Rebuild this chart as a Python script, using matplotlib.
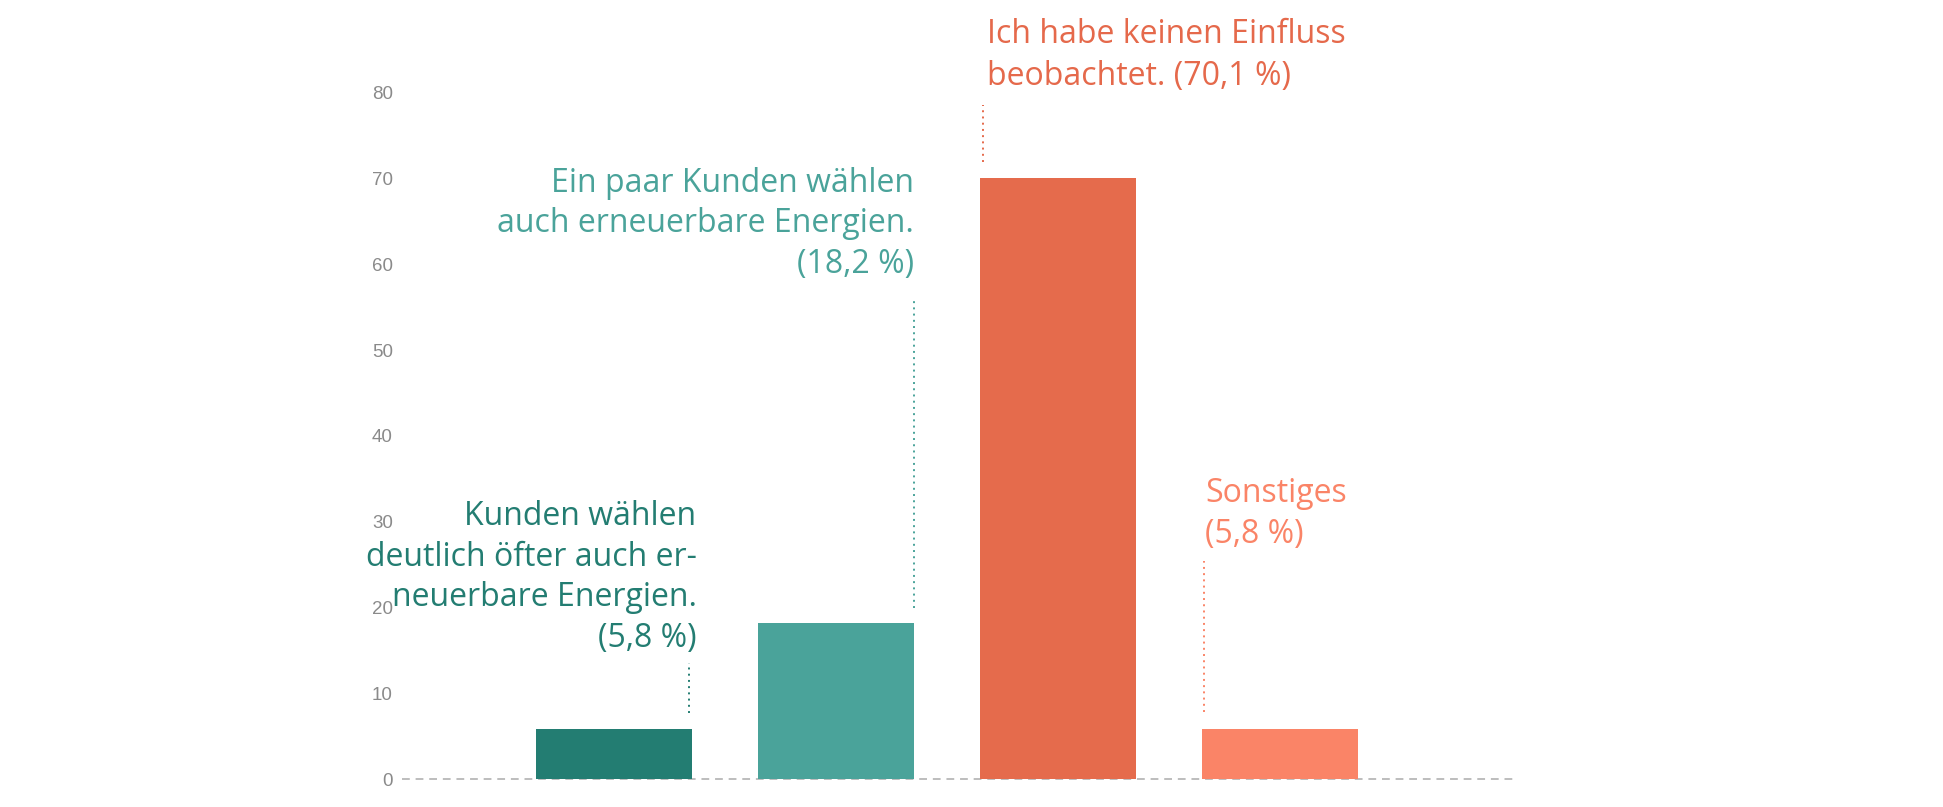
import matplotlib
matplotlib.use("Agg")
import matplotlib.pyplot as plt
from matplotlib import font_manager

# ---- data ----
categories = ["Kunden wählen deutlich öfter auch erneuerbare Energien.",
              "Ein paar Kunden wählen auch erneuerbare Energien.",
              "Ich habe keinen Einfluss beobachtet.",
              "Sonstiges"]
values = [5.8, 18.2, 70.1, 5.8]
label_lines = [
    ["Kunden wählen", "deutlich öfter auch er-", "neuerbare Energien.", "(5,8 %)"],
    ["Ein paar Kunden wählen", "auch erneuerbare Energien.", "(18,2 %)"],
    ["Ich habe keinen Einfluss", "beobachtet. (70,1 %)"],
    ["Sonstiges", "(5,8 %)"],
]
yticks = [0, 10, 20, 30, 40, 50, 60, 70, 80]

# ---- style ----
colors = ["#237d72", "#4aa39a", "#e56b4c", "#fa8467"]
text_colors = ["#237d72", "#4aa39a", "#e5694b", "#fa8467"]

available = {f.name for f in font_manager.fontManager.ttflist}
label_font = next((f for f in ["Open Sans", "Roboto", "DejaVu Sans"] if f in available), "DejaVu Sans")
tick_font = "Liberation Sans" if "Liberation Sans" in available else "DejaVu Sans"

W, H = 1943, 807
fig = plt.figure(figsize=(W / 100, H / 100), dpi=100)
ax = fig.add_axes([402 / W, (H - 779) / H, 1112 / W, 686 / H])

x = list(range(len(values)))
ax.bar(x, values, width=0.703, color=colors, zorder=2)
ax.set_xlim(-0.955, 4.054)
ax.set_ylim(0, 80)

for s in ax.spines.values():
    s.set_visible(False)
ax.set_xticks([])
ax.set_yticks(yticks)
ax.set_yticklabels([str(t) for t in yticks], fontfamily=tick_font, fontsize=13.5, color="#8a8a8a")
ax.tick_params(axis="y", length=0, pad=6.5)
ax.axhline(0, color="#bdbdbd", lw=1.4, ls=(0, (4, 3)), zorder=1, clip_on=False)

px_per_unit = 686 / 80.0

layouts = [
    dict(tx=x[0] + 0.372, base=525, sp=40.5, ha="right", lx=x[0] + 0.338, ly=(7.7, 13.5)),
    dict(tx=x[1] + 0.351, base=192, sp=40.5, ha="right", lx=x[1] + 0.351, ly=(19.9, 55.9)),
    dict(tx=x[2] - 0.320, base=43, sp=42, ha="left", lx=x[2] - 0.338, ly=(72.0, 78.6)),
    dict(tx=x[3] - 0.338, base=502, sp=40.5, ha="left", lx=x[3] - 0.342, ly=(7.8, 25.4)),
]

for i, (lines, lay) in enumerate(zip(label_lines, layouts)):
    for j, line in enumerate(lines):
        ypx = lay["base"] + j * lay["sp"]
        yd = (779 - ypx) / px_per_unit
        ax.text(lay["tx"], yd, line, ha=lay["ha"], va="baseline",
                fontsize=23, color=text_colors[i], fontfamily=label_font,
                fontweight="normal", clip_on=False)
    ax.plot([lay["lx"], lay["lx"]], list(lay["ly"]), color=text_colors[i],
            lw=1.4, ls=(0, (1, 2.2)), clip_on=False)

fig.savefig("out.png", dpi=100, facecolor="white")
